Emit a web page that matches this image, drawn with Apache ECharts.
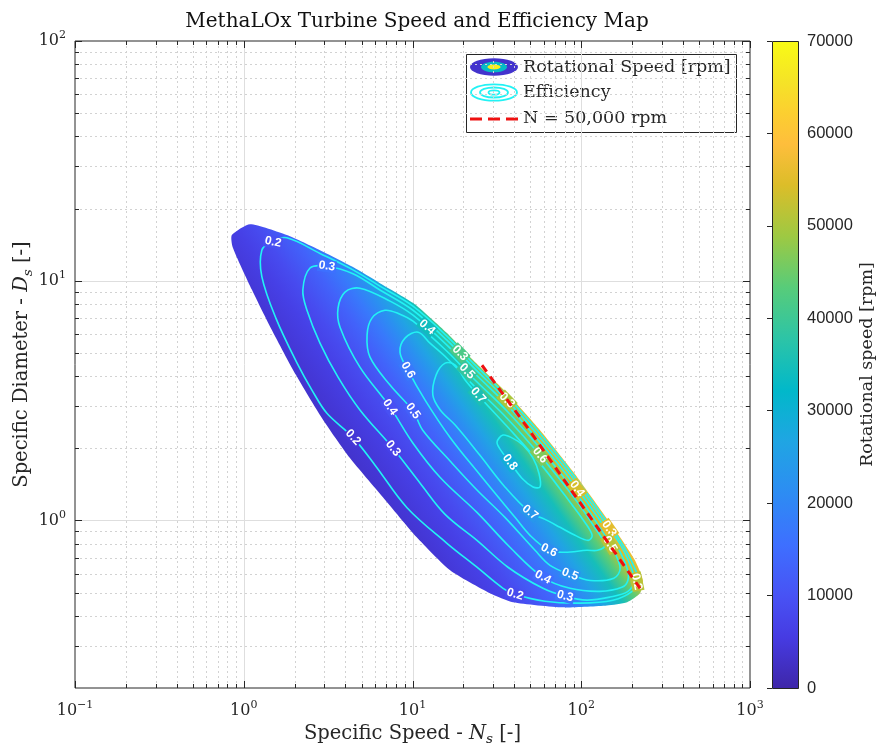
<!DOCTYPE html>
<html>
<head>
<meta charset="utf-8">
<script src="https://cdn.jsdelivr.net/npm/echarts@6/dist/echarts.min.js"></script>
<style>
  html, body { margin: 0; padding: 0; background: #fff; }
  #chart { width: 885px; height: 746px; }
</style>
</head>
<body>
<div id="chart"></div>
<script>
// ---- data ----
// outline of the design space, [Ns, Ds] going round clockwise from the top-left tip
const boundaryNs = [0.85, 1.09, 1.80, 2.83, 4.44, 6.41, 10.1, 16.0, 22.9, 36.3, 57.0, 89.4, 135, 170, 208, 232,
                    223, 187, 142, 78, 39.4, 28.8, 16.7, 10.6, 6.68, 4.26, 2.91, 2.04, 1.47, 1.12, 0.86];
const boundaryDs = [15.5, 17.2, 15.5, 13.4, 11.4, 9.77, 8.07, 6.05, 4.66, 3.40, 2.38, 1.60, 1.07, 0.851, 0.682, 0.562,
                    0.497, 0.456, 0.442, 0.434, 0.456, 0.497, 0.620, 0.851, 1.25, 1.82, 2.67, 4.04, 6.22, 9.15, 13.8];

// rotational speed read along the Ds = 1 line (iso-speed lines run at slope -1)
const speedNs  = [7, 10, 15, 20, 30, 40, 50, 60, 80, 100, 120, 145];
const speedRpm = [3100, 4400, 6500, 8700, 13100, 17400, 21800, 26200, 34900, 43600, 52000, 57500];

// efficiency contours, closed loops of [Ns, Ds]
const eff02 = [[1.28,13.4],[1.47,14.6],[1.80,15.1],[2.83,13.0],[4.44,11.1],[6.41,9.49],[10.07,7.83],[16.0,5.87],[22.9,4.53],[36.3,3.30],[57.0,2.31],[89.4,1.56],[135,1.04],[170,0.826],[203,0.656],[217,0.562],[200,0.506],[154,0.465],[98.4,0.452],[61.0,0.460],[40.5,0.492],[34.4,0.521],[24.1,0.638],[16.0,0.803],[9.28,1.13],[6.00,1.70],[4.44,2.22],[3.11,2.80],[2.54,3.49],[2.07,4.53],[1.55,6.98],[1.28,10.4]];
const eff03 = [[2.24,9.15],[2.47,11.3],[3.11,11.5],[4.44,10.7],[6.41,9.15],[10.07,7.53],[16.0,5.65],[22.9,4.36],[36.3,3.17],[57.0,2.22],[89.4,1.50],[135,1.00],[170,0.796],[195,0.650],[206,0.562],[189,0.506],[148,0.479],[108,0.465],[80.2,0.483],[59.3,0.521],[36.8,0.638],[24.1,0.826],[15.6,1.06],[11.1,1.43],[7.66,2.00],[4.88,2.89],[3.62,3.96],[2.83,5.49],[2.37,7.53]];
const eff04 = [[3.62,7.69],[3.98,8.97],[4.88,9.31],[7.36,8.22],[10.07,7.18],[16.0,5.39],[22.9,4.16],[36.3,3.03],[57.0,2.12],[89.4,1.43],[135,0.955],[165,0.766],[187,0.631],[189,0.562],[174,0.526],[129,0.506],[85.8,0.521],[59.3,0.579],[37.8,0.773],[24.1,1.08],[14.6,1.51],[10.07,2.10],[7.36,2.97],[4.88,4.36],[3.72,6.40]];
const eff05 = [[5.38,5.93],[5.75,6.98],[6.87,7.53],[8.43,7.25],[10.07,6.78],[16.0,5.08],[22.9,3.92],[36.3,2.86],[57.0,2.00],[89.4,1.35],[129,0.936],[154,0.758],[170,0.631],[156,0.574],[113,0.562],[85.8,0.596],[65.3,0.650],[53.2,0.751],[35.3,1.03],[24.1,1.34],[16.7,1.77],[11.5,2.38],[10.07,2.86],[7.36,3.67],[5.60,4.80]];
const eff06 = [[8.43,5.04],[9.03,5.76],[10.8,6.10],[12.7,5.49],[16.0,4.75],[22.9,3.67],[36.3,2.67],[57.0,1.87],[89.4,1.26],[121,0.928],[138,0.788],[125,0.751],[108,0.751],[80.2,0.737],[64.4,0.751],[49.7,0.867],[40.5,1.03],[25.1,1.55],[16.7,2.22],[11.9,3.17],[9.40,4.24]];
const eff07 = [[13.2,3.33],[13.8,4.04],[15.6,4.53],[17.9,4.45],[20.5,3.85],[24.5,3.33],[36.3,2.47],[57.0,1.73],[80.2,1.27],[105,0.983],[116,0.867],[110,0.826],[91.8,0.867],[74.9,0.936],[61.0,1.01],[49.7,1.08],[35.3,1.38],[25.1,1.87],[17.9,2.50],[14.6,2.89]];
const eff08 = [[31.7,2.12],[34.4,2.27],[39.4,2.20],[45.2,2.06],[51.8,1.82],[56.2,1.57],[57.0,1.38],[51.8,1.38],[44.5,1.50],[37.8,1.75],[33.4,1.96]];

// contour labels
const labelText  = ['0.2','0.3','0.4','0.3','0.5','0.7','0.3','0.6','0.4','0.3','0.5','0.2',
                    '0.6','0.4','0.5','0.2','0.3','0.8','0.7','0.6','0.4','0.5','0.2','0.3'];
const labelNs    = [1.49, 3.11, 12.2, 19.1, 21.0, 24.5, 36.3, 57.0, 94.4, 146, 148, 213,
                    9.40, 7.36, 10.07, 4.44, 7.66, 37.8, 49.7, 64.4, 59.3, 85.8, 40.5, 80.2];
const labelDs    = [14.5, 11.5, 6.40, 4.99, 4.19, 3.33, 3.17, 1.87, 1.355, 0.923, 0.796, 0.555,
                    4.24, 2.97, 2.86, 2.22, 2.00, 1.75, 1.08, 0.751, 0.579, 0.596, 0.492, 0.483];
const labelAngle = [-12, -8, -41, -46, -46, -48, -46, -50, -54, -55, -59, -78,
                    -60, -55, -54, -47, -51, -53, -39, -27, -28, -21, -17, -15];

// N = 50,000 rpm line
const n50kNs = [25.8, 47.8, 223];
const n50kDs = [4.44, 2.45, 0.521];

// axes
const xMajor = [0.1, 1, 10, 100, 1000];
const yMajor = [1, 10, 100];
const cbMin = 0, cbMax = 70000, cbStep = 10000;

// ---- style ----
const SERIF = 'DejaVu Serif';
const SANS = 'Liberation Sans';
const INK = '#262626';
const CYAN = '#22f2f4';
const PARULA = [
  [0.000, '#3e26a8'], [0.079, '#463be2'], [0.143, '#4852f4'], [0.222, '#3e6fff'],
  [0.302, '#2d8cf3'], [0.381, '#20a5e3'], [0.460, '#01b8ca'], [0.540, '#2cc4a7'],
  [0.619, '#57cc7a'], [0.698, '#9dc943'], [0.778, '#dcbd29'], [0.841, '#febe3c'],
  [0.889, '#fccf30'], [0.937, '#f5e327'], [1.000, '#f9fb15']
];

function hexRgb(h) { return [1, 3, 5].map(i => parseInt(h.slice(i, i + 2), 16)); }
function parula(t) {
  t = Math.max(0, Math.min(1, t));
  for (let i = 0; i < PARULA.length - 1; i++) {
    const a = PARULA[i], b = PARULA[i + 1];
    if (t <= b[0]) {
      const f = (t - a[0]) / (b[0] - a[0]);
      const ca = hexRgb(a[1]), cb = hexRgb(b[1]);
      const c = ca.map((v, k) => Math.round(v + (cb[k] - v) * f));
      return 'rgb(' + c.join(',') + ')';
    }
  }
  return PARULA[PARULA.length - 1][1];
}

const xMinor = [], yMinor = [];
for (let e = -1; e < 3; e++) for (let m = 2; m <= 9; m++) xMinor.push(m * Math.pow(10, e));
for (let e = -1; e < 2; e++) for (let m = 2; m <= 9; m++) {
  const v = m * Math.pow(10, e);
  if (v > 0.2 && v < 100) yMinor.push(v);
}

function powLabel(v) {
  const lg = Math.log10(v), e = Math.round(lg);
  if (Math.abs(lg - e) > 1e-6) return '';
  return '{b|10}{s|' + (e < 0 ? '\u2212' + (-e) : e) + '}';
}
const powRich = {
  b: { fontFamily: SERIF, fontSize: 16, color: INK, lineHeight: 22 },
  s: { fontFamily: SERIF, fontSize: 11, color: INK, lineHeight: 11, verticalAlign: 'top' }
};
const nameRich = {
  t: { fontFamily: SERIF, fontSize: 19.5, color: INK, lineHeight: 26 },
  i: { fontFamily: SERIF, fontSize: 19.5, color: INK, fontStyle: 'italic', lineHeight: 26 },
  sub: { fontFamily: SERIF, fontSize: 13.5, color: INK, fontStyle: 'italic', lineHeight: 13, verticalAlign: 'bottom' }
};

// gradient axis perpendicular to the iso-speed lines, in pixels
function gradientFrame(api) {
  const a = api.coord([1, 1]), b = api.coord([10, 0.1]);
  const dx = b[0] - a[0], dy = b[1] - a[1], L = Math.hypot(dx, dy);
  const nx = dy / L, ny = -dx / L;
  const p = speedNs.map(v => api.coord([v, 1]));
  const t = p.map(q => (q[0] - p[0][0]) * nx + (q[1] - p[0][1]) * ny);
  return { x0: p[0][0], y0: p[0][1], nx, ny, t, len: t[t.length - 1] };
}
function speedAtPixel(g, q) {
  const tq = (q[0] - g.x0) * g.nx + (q[1] - g.y0) * g.ny;
  if (tq <= g.t[0]) return speedRpm[0];
  for (let i = 0; i < g.t.length - 1; i++) {
    if (tq <= g.t[i + 1]) {
      const f = (tq - g.t[i]) / (g.t[i + 1] - g.t[i]);
      return speedRpm[i] + (speedRpm[i + 1] - speedRpm[i]) * f;
    }
  }
  return speedRpm[speedRpm.length - 1];
}

function renderGrid(params, api) {
  const cs = params.coordSys;
  const kids = [];
  const vline = (v, style) => {
    const x = Math.round(api.coord([v, 1])[0]) + 0.5;
    kids.push({ type: 'line', shape: { x1: x, y1: cs.y, x2: x, y2: cs.y + cs.height }, style });
  };
  const hline = (v, style) => {
    const y = Math.round(api.coord([1, v])[1]) + 0.5;
    kids.push({ type: 'line', shape: { x1: cs.x, y1: y, x2: cs.x + cs.width, y2: y }, style });
  };
  const minor = { stroke: '#d2d2d2', lineWidth: 1, lineDash: [2, 3] };
  const major = { stroke: '#dedede', lineWidth: 1 };
  xMinor.forEach(v => vline(v, minor));
  yMinor.forEach(v => hline(v, minor));
  xMajor.slice(1, -1).forEach(v => vline(v, major));
  yMajor.slice(0, -1).forEach(v => hline(v, major));
  return { type: 'group', children: kids };
}

function renderTicks(params, api) {
  const cs = params.coordSys;
  const kids = [];
  const st = { stroke: INK, lineWidth: 1 };
  const xt = (v, len) => {
    const x = Math.round(api.coord([v, 1])[0]) + 0.5;
    kids.push({ type: 'line', shape: { x1: x, y1: cs.y + cs.height, x2: x, y2: cs.y + cs.height - len }, style: st });
    kids.push({ type: 'line', shape: { x1: x, y1: cs.y, x2: x, y2: cs.y + len }, style: st });
  };
  const yt = (v, len) => {
    const y = Math.round(api.coord([1, v])[1]) + 0.5;
    kids.push({ type: 'line', shape: { x1: cs.x, y1: y, x2: cs.x + len, y2: y }, style: st });
    kids.push({ type: 'line', shape: { x1: cs.x + cs.width, y1: y, x2: cs.x + cs.width - len, y2: y }, style: st });
  };
  xMajor.forEach(v => xt(v, 7));
  xMinor.forEach(v => xt(v, 4));
  yMajor.forEach(v => yt(v, 7));
  yMinor.forEach(v => yt(v, 4));
  return { type: 'group', children: kids };
}

function renderField(params, api) {
  const g = gradientFrame(api);
  const stops = speedNs.map((v, i) => ({ offset: g.t[i] / g.len, color: parula(speedRpm[i] / cbMax) }));
  const fill = new echarts.graphic.LinearGradient(
    g.x0, g.y0, g.x0 + g.nx * g.len, g.y0 + g.ny * g.len, stops, true);
  const pts = boundaryNs.map((v, i) => api.coord([v, boundaryDs[i]]));
  return { type: 'polygon', shape: { points: pts, smooth: 0.2 }, style: { fill: fill, stroke: null } };
}

function renderContours(params, api) {
  const g = gradientFrame(api);
  const kids = [];
  [eff02, eff03, eff04, eff05, eff06, eff07, eff08].forEach(loop => {
    kids.push({
      type: 'polygon',
      shape: { points: loop.map(p => api.coord(p)), smooth: 0.35 },
      style: { fill: null, stroke: CYAN, lineWidth: 1.6 }
    });
  });
  labelText.forEach((txt, i) => {
    const q = api.coord([labelNs[i], labelDs[i]]);
    kids.push({
      type: 'text', x: q[0], y: q[1], rotation: labelAngle[i] * Math.PI / 180,
      style: {
        text: txt, fill: '#ffffff', font: 'bold 12px ' + SANS,
        align: 'center', verticalAlign: 'middle',
        backgroundColor: parula(speedAtPixel(g, q) / cbMax), padding: [0, 1]
      }
    });
  });
  return { type: 'group', children: kids };
}

function renderColorbar(params, api) {
  const a = api.coord([0, cbMax]), b = api.coord([1, cbMin]);
  const stops = PARULA.map(s => ({ offset: 1 - s[0], color: s[1] })).reverse();
  return {
    type: 'rect',
    shape: { x: Math.round(a[0]) + 0.5, y: Math.round(a[1]) + 0.5, width: Math.round(b[0] - a[0]), height: Math.round(b[1] - a[1]) },
    style: { fill: new echarts.graphic.LinearGradient(0, 0, 0, 1, stops), stroke: INK, lineWidth: 1 }
  };
}

const chart = echarts.init(document.getElementById('chart'));

chart.setOption({
  animation: false,
  backgroundColor: '#ffffff',
  title: {
    text: 'MethaLOx Turbine Speed and Efficiency Map',
    left: 412, top: 7, textAlign: 'center',
    textStyle: { fontFamily: SERIF, fontSize: 20, fontWeight: 'normal', color: '#111' }
  },
  grid: [
    { left: 75, top: 41, width: 675, height: 647, show: true, borderColor: INK, borderWidth: 1,
      containLabel: false, outerBoundsMode: 'none' },
    { left: 772, top: 41, width: 26, height: 647, containLabel: false, outerBoundsMode: 'none' }
  ],
  xAxis: [
    {
      type: 'log', logBase: 10, gridIndex: 0, min: 0.1, max: 1000,
      axisLine: { show: false }, axisTick: { show: false }, splitLine: { show: false },
      axisLabel: { formatter: powLabel, rich: powRich, margin: 12 },
      name: '{t|Specific Speed - }{i|N}{sub|s}{t| [-]}',
      nameLocation: 'middle', nameGap: 32, nameTextStyle: { rich: nameRich }
    },
    { type: 'value', gridIndex: 1, min: 0, max: 1, show: false }
  ],
  yAxis: [
    {
      type: 'log', logBase: 10, gridIndex: 0, min: 0.2, max: 100,
      axisLine: { show: false }, axisTick: { show: false }, splitLine: { show: false },
      axisLabel: { formatter: powLabel, rich: powRich, margin: 9 },
      name: '{t|Specific Diameter - }{i|D}{sub|s}{t| [-]}',
      nameLocation: 'middle', nameGap: 40, nameRotate: 90, nameMoveOverlap: false,
      nameTextStyle: { rich: nameRich }
    },
    {
      type: 'value', gridIndex: 1, min: cbMin, max: cbMax, interval: cbStep, position: 'right',
      axisLine: { show: false }, splitLine: { show: false },
      axisTick: { show: true, inside: true, length: 5, lineStyle: { color: INK } },
      axisLabel: { fontFamily: SANS, fontSize: 16.5, color: INK, margin: 9, formatter: v => String(v) },
      name: 'Rotational speed [rpm]', nameLocation: 'middle', nameGap: 60, nameRotate: 90,
      nameTextStyle: { fontFamily: SERIF, fontSize: 17.5, color: INK }
    }
  ],
  series: [
    { type: 'custom', name: 'grid', xAxisIndex: 0, yAxisIndex: 0, z: 1, silent: true,
      data: [[1, 1]], renderItem: renderGrid },
    { type: 'custom', name: 'Rotational Speed [rpm]', xAxisIndex: 0, yAxisIndex: 0, z: 2, silent: true,
      data: [[1, 1]], renderItem: renderField },
    { type: 'custom', name: 'Efficiency', xAxisIndex: 0, yAxisIndex: 0, z: 3, silent: true,
      data: [[1, 1]], renderItem: renderContours },
    { type: 'line', name: 'N = 50,000 rpm', xAxisIndex: 0, yAxisIndex: 0, z: 4, silent: true,
      data: n50kNs.map((v, i) => [v, n50kDs[i]]), symbol: 'none',
      lineStyle: { color: '#ee1111', width: 3, type: [8, 6] } },
    { type: 'custom', name: 'ticks', xAxisIndex: 0, yAxisIndex: 0, z: 6, silent: true,
      data: [[1, 1]], renderItem: renderTicks },
    { type: 'custom', name: 'colorbar', xAxisIndex: 1, yAxisIndex: 1, z: 2, silent: true,
      data: [[0, 0]], renderItem: renderColorbar }
  ],
  graphic: [
    { type: 'group', z: 100, children: [
      { type: 'rect', shape: { x: 466.5, y: 54.5, width: 270, height: 78 }, style: { fill: '#fff', stroke: INK, lineWidth: 1 } },
      { type: 'ellipse', shape: { cx: 494, cy: 67, rx: 24, ry: 8.7 }, style: { fill: parula(0.05) } },
      { type: 'ellipse', shape: { cx: 494, cy: 67, rx: 13, ry: 5.3 }, style: { fill: parula(0.47) } },
      { type: 'ellipse', shape: { cx: 494, cy: 67, rx: 6.5, ry: 2.4 }, style: { fill: parula(0.97) } },
      { type: 'ellipse', shape: { cx: 494, cy: 92.5, rx: 23, ry: 8.2 }, style: { fill: null, stroke: CYAN, lineWidth: 1.8 } },
      { type: 'ellipse', shape: { cx: 494, cy: 92.5, rx: 14, ry: 5 }, style: { fill: null, stroke: CYAN, lineWidth: 1.8 } },
      { type: 'ellipse', shape: { cx: 494, cy: 92.5, rx: 5.5, ry: 2.2 }, style: { fill: null, stroke: CYAN, lineWidth: 1.8 } },
      { type: 'line', shape: { x1: 470, y1: 119, x2: 518, y2: 119 }, style: { stroke: '#ee1111', lineWidth: 3, lineDash: [12, 6] } },
      { type: 'text', x: 523, y: 67, style: { text: 'Rotational Speed [rpm]', font: '17.5px ' + SERIF, fill: INK, verticalAlign: 'middle' } },
      { type: 'text', x: 523, y: 92, style: { text: 'Efficiency', font: '17.5px ' + SERIF, fill: INK, verticalAlign: 'middle' } },
      { type: 'text', x: 523, y: 118, style: { text: 'N = 50,000 rpm', font: '17.5px ' + SERIF, fill: INK, verticalAlign: 'middle' } }
    ] }
  ]
});
</script>
</body>
</html>
